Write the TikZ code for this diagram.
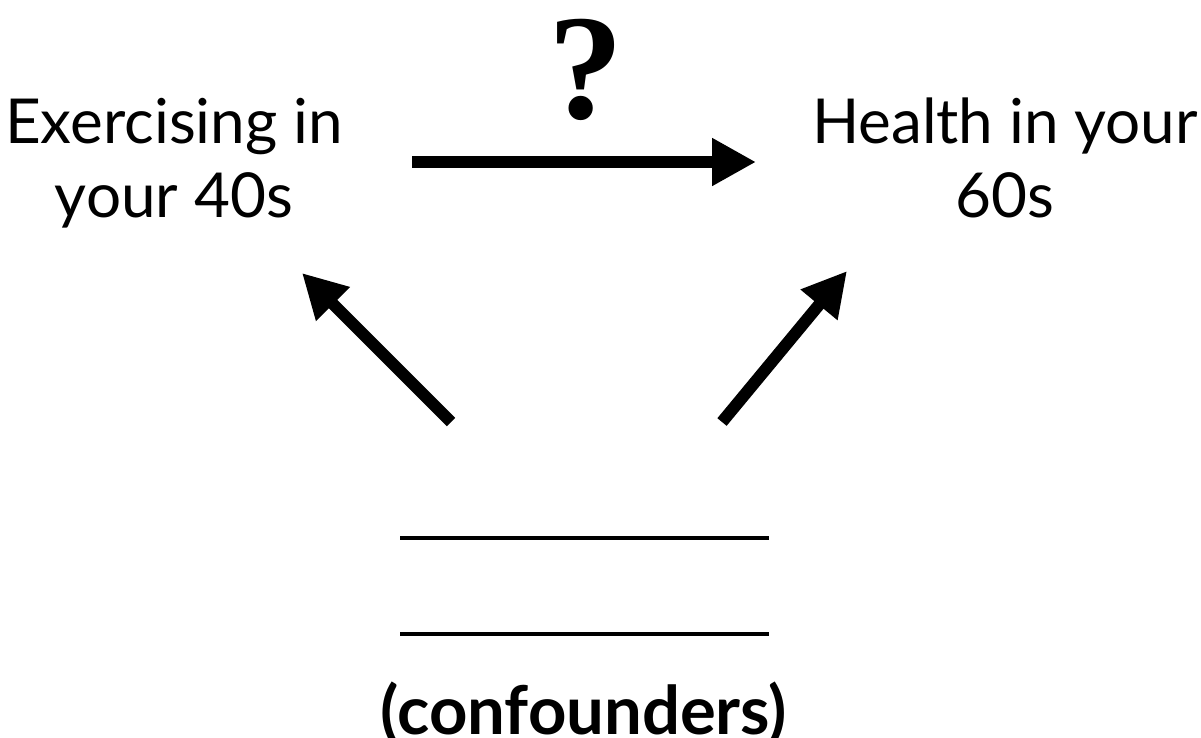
\documentclass[tikz,border=0pt]{standalone}
\usepackage{fontspec}
\setmainfont{Lato}
\newfontfamily\qfont{Liberation Serif}
\usetikzlibrary{arrows.meta}
\tikzset{
  lbl/.style={inner sep=0pt, align=center, font=\fontsize{62}{74}\selectfont},
  bigarrow/.style={line width=12pt, -{Triangle[length=44pt,width=45pt]}},
  blank/.style={line width=4pt}
}
\begin{document}
\begin{tikzpicture}[x=1pt,y=-1pt]
\useasboundingbox (0,0) rectangle (1201,737);
\node[lbl, anchor=base] (ex) at (174,217) {Exercising in\\your 40s};
\node[lbl, anchor=base] (he) at (1005,217) {Health in your\\60s};
\node[inner sep=0pt, anchor=base, font=\qfont\bfseries\fontsize{150}{150}\selectfont] (q) at (586,118) {?};
\node[inner sep=0pt, anchor=base, font=\bfseries\fontsize{67}{67}\selectfont] (conf) at (584,734) {(confounders)};
\coordinate (hs) at (412,162);
\coordinate (ht) at (756,162);
\coordinate (ls) at (451,422);
\coordinate (lt) at (302,273);
\coordinate (rs) at (722,422);
\coordinate (rt) at (847,271);
\coordinate (a1) at (400,538);
\coordinate (b1) at (769,538);
\coordinate (a2) at (400,634);
\coordinate (b2) at (769,634);
\draw[bigarrow] (hs) -- (ht);
\draw[bigarrow] (ls) -- (lt);
\draw[bigarrow] (rs) -- (rt);
\draw[blank] (a1) -- (b1);
\draw[blank] (a2) -- (b2);
\end{tikzpicture}
\end{document}
